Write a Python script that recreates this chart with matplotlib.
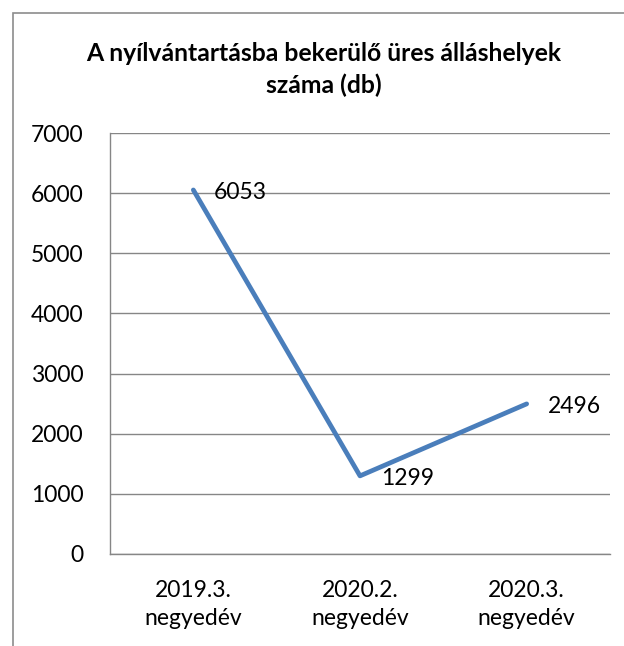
import matplotlib
matplotlib.use("Agg")
import matplotlib.pyplot as plt
from matplotlib.patches import Rectangle

plt.rcParams['font.family'] = ['Lato', 'DejaVu Sans']

categories = ["2019.3.\nnegyedév", "2020.2.\nnegyedév", "2020.3.\nnegyedév"]
values = [6053, 1299, 2496]
yticks = [0, 1000, 2000, 3000, 4000, 5000, 6000, 7000]
title = "A nyílvántartásba bekerülő üres álláshelyek\nszáma (db)"

fig = plt.figure(figsize=(6.24, 6.46), dpi=100)
# plot area: x 110..610 px, y 133..554 px
ax = fig.add_axes([110 / 624, 1 - 554 / 646, 500 / 624, 421 / 646])

x = list(range(len(categories)))
ax.plot(x, values, color="#4A7EBB", linewidth=3.4, solid_capstyle="round",
        solid_joinstyle="round", zorder=3)
for xi, v in zip(x, values):
    ax.annotate(f"{v}", (xi, v), xytext=(15, -2), textcoords="offset points",
                ha="left", va="center", fontsize=16.5, zorder=4)

ax.set_xlim(-0.5, len(categories) - 0.5)
ax.set_ylim(0, 7000)
ax.set_yticks(yticks)
ax.set_xticks(x)
ax.set_xticklabels(categories, fontsize=16.5, linespacing=1.4)
ax.tick_params(axis="y", labelsize=16.5, length=0, pad=19)
ax.tick_params(axis="x", length=0, pad=19)
ax.grid(axis="y", color="#868686", linewidth=1)
ax.set_axisbelow(True)
for s in ["top", "right"]:
    ax.spines[s].set_visible(False)
for s in ["left", "bottom"]:
    ax.spines[s].set_color("#868686")
    ax.spines[s].set_linewidth(1)

fig.text(324 / 624, 1 - 42 / 646, title, ha="center", va="top", fontsize=17.8,
         fontweight="bold", linespacing=1.42)

fig.patches.append(Rectangle((13 / 624, -0.1), 1.2, 1 - 13 / 646 + 0.1,
                             transform=fig.transFigure, fill=False,
                             edgecolor="#8c8c8c", linewidth=1.2))

fig.savefig("out.png", dpi=100)
